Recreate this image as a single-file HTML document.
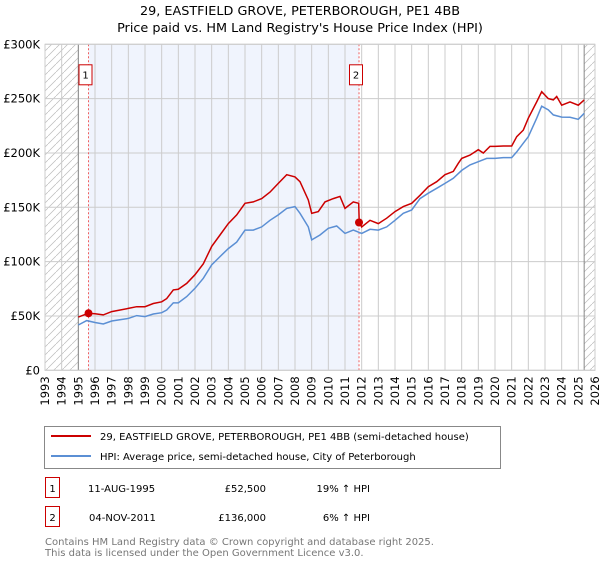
<!DOCTYPE html>
<html><head><meta charset="utf-8"><style>
body{margin:0;background:#fff;font-family:"Liberation Sans","DejaVu Sans",sans-serif;}
svg text{font-family:"DejaVu Sans","Liberation Sans",sans-serif;}
</style></head><body>
<svg id="c" width="600" height="560" xmlns="http://www.w3.org/2000/svg">
<defs><pattern id="hatch" width="8" height="8" patternUnits="userSpaceOnUse"><path d="M0 8 L8 0" stroke="#bbb" stroke-width="0.7"/></pattern></defs>
<text x="300" y="15" text-anchor="middle" font-size="12.8" fill="#000">29, EASTFIELD GROVE, PETERBOROUGH, PE1 4BB</text>
<text x="300" y="32" text-anchor="middle" font-size="12.8" fill="#000">Price paid vs. HM Land Registry's House Price Index (HPI)</text>
<g id="plot"></g>
<rect x="44.5" y="426.5" width="456" height="42" fill="#fff" stroke="#888"/>
<line x1="51" y1="436" x2="91" y2="436" stroke="#cc0000" stroke-width="2"/>
<text x="100" y="440" font-size="10">29, EASTFIELD GROVE, PETERBOROUGH, PE1 4BB (semi-detached house)</text>
<line x1="51" y1="456" x2="91" y2="456" stroke="#5b8fd4" stroke-width="2"/>
<text x="100" y="460" font-size="10">HPI: Average price, semi-detached house, City of Peterborough</text>
<rect x="45.5" y="477.5" width="14" height="20" fill="#fff" stroke="#cc0000"/>
<text x="52.5" y="492" font-size="10" text-anchor="middle">1</text>
<text x="88" y="492" font-size="10">11-AUG-1995</text>
<text x="266" y="492" font-size="10" text-anchor="end">£52,500</text>
<text x="370" y="492" font-size="10" text-anchor="end">19% ↑ HPI</text>
<rect x="45.5" y="506.5" width="14" height="20" fill="#fff" stroke="#cc0000"/>
<text x="52.5" y="521" font-size="10" text-anchor="middle">2</text>
<text x="89" y="521" font-size="10">04-NOV-2011</text>
<text x="266" y="521" font-size="10" text-anchor="end">£136,000</text>
<text x="370" y="521" font-size="10" text-anchor="end">6% ↑ HPI</text>
<text x="45" y="545" font-size="10" fill="#777">Contains HM Land Registry data © Crown copyright and database right 2025.</text>
<text x="45" y="556" font-size="10" fill="#777">This data is licensed under the Open Government Licence v3.0.</text>
</svg>
<script>
const yTicks=[0,50,100,150,200,250,300];
const yTickLabels=["£0","£50K","£100K","£150K","£200K","£250K","£300K"];
const xYears=[1993,1994,1995,1996,1997,1998,1999,2000,2001,2002,2003,2004,2005,2006,2007,2008,2009,2010,2011,2012,2013,2014,2015,2016,2017,2018,2019,2020,2021,2022,2023,2024,2025,2026];
const redT=[1995.0,1995.6,1996,1996.5,1997,1998,1998.5,1999,1999.5,2000,2000.3,2000.7,2001,2001.5,2002,2002.5,2003,2003.5,2004,2004.5,2005,2005.5,2006,2006.5,2007,2007.5,2008,2008.3,2008.8,2009.0,2009.4,2009.8,2010.3,2010.7,2011.0,2011.5,2011.82,2011.85,2012,2012.5,2013,2013.5,2014,2014.5,2015,2015.5,2016,2016.5,2017,2017.5,2017.8,2018,2018.5,2019,2019.3,2019.7,2020,2020.5,2021,2021.3,2021.7,2022,2022.5,2022.8,2023.2,2023.5,2023.7,2024,2024.5,2025,2025.35];
const redV=[49,52.5,52,51,54,57,58.5,58.5,61.5,63,66,74,74.5,80,88,98,114,124.5,135,143,153.7,155,158,164,172,180,178,173.6,156.7,144.5,146,155,158,160,149,155,153.7,136.8,132,138,135,140,146,150.6,153.7,161,169,173.6,180,183,190.5,195,198,203,200,206,206,206.4,206.4,215,221,232,247,256.4,250,248.8,252,244,247,244,248.8];
const blueT=[1995.0,1995.5,1996,1996.5,1997,1998,1998.5,1999,1999.5,2000,2000.3,2000.7,2001,2001.5,2002,2002.5,2003,2003.5,2004,2004.5,2005,2005.5,2006,2006.5,2007,2007.5,2008,2008.3,2008.8,2009.0,2009.5,2010,2010.5,2011,2011.5,2012,2012.5,2013,2013.5,2014,2014.5,2015,2015.5,2016,2016.5,2017,2017.5,2018,2018.5,2019,2019.5,2020,2020.5,2021,2021.3,2021.7,2022,2022.5,2022.8,2023.2,2023.5,2024,2024.5,2025,2025.35];
const blueV=[41.7,45.7,44,42.6,45.4,47.8,50.3,49.4,51.8,53,55.5,62,62,67.8,75.5,84.7,97,104.6,112,118,129,129,132,138,143,149,150.6,144.5,132,120,124.5,130.7,132.8,126,129,126,129.8,129,132,138,144.5,147.5,158,163,167.5,172,176.7,184,189,192,195,195,195.7,195.7,201,209,215,232,243,239.6,235,233,232.8,231,236.5];
const saleT=[1995.61,2011.84];
const saleV=[52.5,136];
const saleLabels=["1","2"];
const L=45,R=595,T=44.3,B=370.3;
const xs=t=>L+(t-1993)/(2026-1993)*(R-L);
const ys=v=>B-v/300*(B-T);
const NS="http://www.w3.org/2000/svg";
const g=document.getElementById('plot');
function mk(tag,attrs,parent){const e=document.createElementNS(NS,tag);for(const k in attrs)e.setAttribute(k,attrs[k]);(parent||g).appendChild(e);return e;}
let bg=mk('rect',{x:L,y:T,width:R-L,height:B-T,fill:'#fff'});


let sh=mk('rect',{x:xs(saleT[0]),y:T,width:xs(saleT[1])-xs(saleT[0]),height:B-T,fill:'#f0f4fd'});


let h1=mk('rect',{x:L,y:T,width:xs(1995)-L,height:B-T,fill:'url(#hatch)'});


let h2=mk('rect',{x:xs(2025.35),y:T,width:R-xs(2025.35),height:B-T,fill:'url(#hatch)'});


xYears.forEach(yr=>{let l=mk('line',{x1:xs(yr),x2:xs(yr),y1:T,y2:B,stroke:'#ccc','stroke-width':1});


let t=mk('text',{x:0,y:0,'font-size':11.5,'text-anchor':'end',transform:`translate(${xs(yr)+4},${B+6}) rotate(-90)`});t.textContent=yr;

});
yTicks.forEach((v,i)=>{let l=mk('line',{x1:L,x2:R,y1:ys(v),y2:ys(v),stroke:'#ccc','stroke-width':1});


let t=mk('text',{x:L-5,y:ys(v)+4,'font-size':11.5,'text-anchor':'end'});t.textContent=yTickLabels[i];

});
[1995,2025.35].forEach(yr=>{let l=mk('line',{x1:xs(yr),x2:xs(yr),y1:T,y2:B,stroke:'#888','stroke-width':1});

});
saleT.forEach((t,i)=>{let l=mk('line',{x1:xs(t),x2:xs(t),y1:T,y2:B,stroke:'#f06060','stroke-width':1,'stroke-dasharray':'2,2'});

});
function pts(T_,V){return T_.map((t,i)=>xs(t).toFixed(1)+','+ys(V[i]).toFixed(1)).join(' ');}
let bl=mk('polyline',{points:pts(blueT,blueV),fill:'none',stroke:'#5b8fd4','stroke-width':1.5});


let rl=mk('polyline',{points:pts(redT,redV),fill:'none',stroke:'#cc0000','stroke-width':1.5});


saleT.forEach((t,i)=>{let c=mk('circle',{cx:xs(t),cy:ys(saleV[i]),r:4,fill:'#cc0000'});


let bx=xs(t)-9.5;
let r=mk('rect',{x:bx,y:T+20.5,width:13,height:20,fill:'#fff',stroke:'#cc0000'});


let tx=mk('text',{x:bx+6.5,y:T+34,'font-size':10,'text-anchor':'middle'});tx.textContent=saleLabels[i];

});
let fr=mk('rect',{x:L,y:T,width:R-L,height:B-T,fill:'none',stroke:'#ccc'});


</script>
</body></html>
